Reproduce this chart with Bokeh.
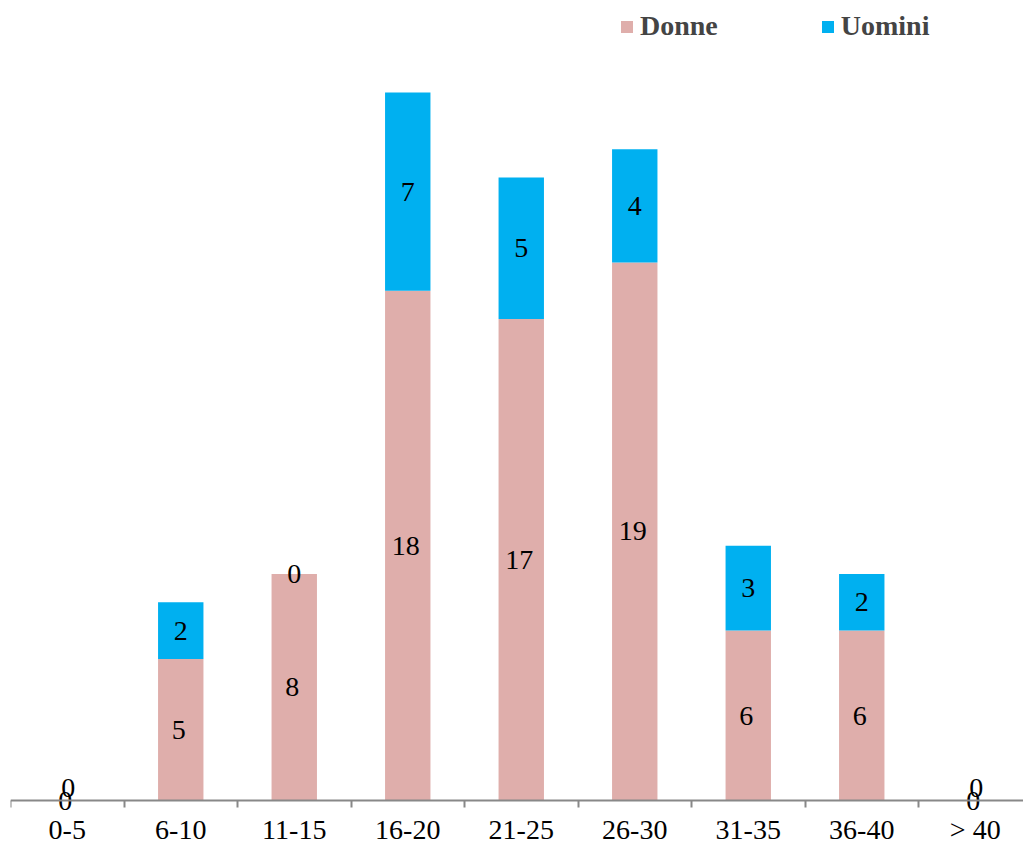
from bokeh.plotting import figure
from bokeh.models import (ColumnDataSource, Range1d, FixedTicker, Legend, LegendItem,
                          LinearAxis)
from bokeh.core.properties import value
from bokeh.embed import file_html
from bokeh.resources import INLINE

categories = ["0-5", "6-10", "11-15", "16-20", "21-25", "26-30", "31-35", "36-40", "> 40"]
donne = [0, 5, 8, 18, 17, 19, 6, 6, 0]
uomini = [0, 2, 0, 7, 5, 4, 3, 2, 0]

PINK = "#DFAEAB"
BLUE = "#00B0F0"
FONT = "Liberation Serif"

xs = list(range(len(categories)))
tops = [d + u for d, u in zip(donne, uomini)]

p = figure(width=1023, height=846, output_backend="svg", toolbar_location=None,
           x_range=Range1d(-0.5, 8.425), y_range=Range1d(-1.624, 28.249),
           y_axis_location=None, x_axis_location=None,
           min_border_left=10, min_border_right=0, min_border_top=0, min_border_bottom=0)
p.outline_line_color = None
p.xgrid.visible = False
p.ygrid.visible = False

src = ColumnDataSource(dict(x=xs, donne=donne, uomini=uomini, tops=tops))
r1 = p.vbar(x="x", bottom=0, top="donne", width=0.4, source=src,
            fill_color=PINK, line_color=None)
r2 = p.vbar(x="x", bottom="donne", top="tops", width=0.4, source=src,
            fill_color=BLUE, line_color=None)

# axis at y=0: labels at category centres, tick marks at category boundaries
xaxis = LinearAxis(fixed_location=0,
                   ticker=FixedTicker(ticks=xs, minor_ticks=[i - 0.5 for i in range(len(categories) + 1)]),
                   major_label_overrides={i: c for i, c in enumerate(categories)})
xaxis.axis_line_color = "#888888"
xaxis.axis_line_width = 2
xaxis.major_tick_in = 0
xaxis.major_tick_out = 0
xaxis.minor_tick_in = 0
xaxis.minor_tick_out = 7
xaxis.minor_tick_line_color = "#888888"
xaxis.minor_tick_line_width = 2
xaxis.major_label_standoff = 6
xaxis.major_label_text_font = FONT
xaxis.major_label_text_font_size = "28px"
xaxis.major_label_text_color = "black"
p.add_layout(xaxis, "below")

# data labels
lx, ly, lt, lxo, lyo = [], [], [], [], []
for i, (d, u) in enumerate(zip(donne, uomini)):
    lx.append(i); ly.append(d / 2); lt.append(str(d)); lxo.append(-2); lyo.append(0)
    lx.append(i); ly.append(d + u / 2); lt.append(str(u))
    if d == 0 and u == 0:
        lxo.append(1); lyo.append(-13)
    else:
        lxo.append(0); lyo.append(0)
lsrc = ColumnDataSource(dict(x=lx, y=ly, t=lt, xo=lxo, yo=lyo))
p.text(x="x", y="y", text="t", x_offset="xo", y_offset="yo", source=lsrc,
       text_align="center", text_baseline="middle",
       text_font=value(FONT), text_font_size="28px", text_color="black")

legend = Legend(items=[LegendItem(label="Donne", renderers=[r1]),
                       LegendItem(label="Uomini", renderers=[r2])],
                orientation="horizontal", location=(609, 804))
legend.border_line_color = None
legend.background_fill_alpha = 0
legend.padding = 0
legend.margin = 0
legend.spacing = 102
legend.glyph_width = 15
legend.glyph_height = 15
legend.label_standoff = 6
legend.label_text_font = FONT
legend.label_text_font_style = "bold"
legend.label_text_font_size = "28px"
p.add_layout(legend, "center")

open("out.html", "w").write(file_html(p, INLINE))
